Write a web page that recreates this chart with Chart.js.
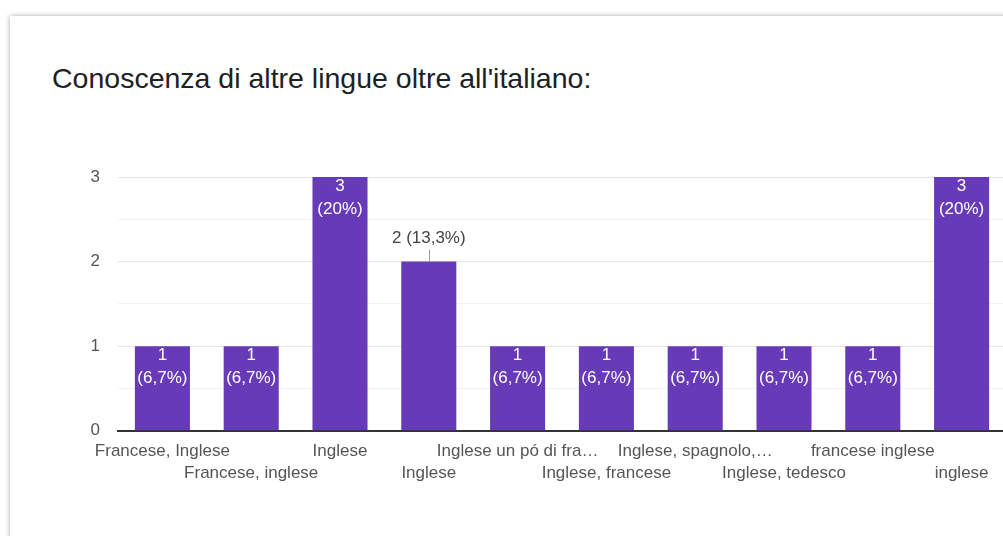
<!DOCTYPE html>
<html>
<head>
<meta charset="utf-8">
<script src="https://cdn.jsdelivr.net/npm/chart.js@4"></script>
<style>
  html, body { margin: 0; padding: 0; background: #fff; width: 1003px; height: 536px; overflow: hidden; }
  #card { position: absolute; left: 10px; top: 16px; width: 1100px; height: 600px; background: #fff;
          box-shadow: 0 0 5px rgba(0, 0, 0, 0.35); }
  #title { position: absolute; left: 42px; top: 46px; font: 28.5px/32px "Liberation Sans", Arial, sans-serif;
           color: #202124; white-space: nowrap; }
  #wrap { position: absolute; left: 0; top: 140px; width: 1010px; height: 370px; }
</style>
</head>
<body>
<div id="card"><div id="title">Conoscenza di altre lingue oltre all'italiano:</div></div>
<div id="wrap"><canvas id="chart"></canvas></div>

<script>
/* ===============================
   Data
================================ */
const categories = [
  "Francese, Inglese",
  "Francese, inglese",
  "Inglese",
  "Inglese",
  "Inglese un pó di fra…",
  "Inglese, francese",
  "Inglese, spagnolo,…",
  "Inglese, tedesco",
  "francese inglese",
  "inglese"
];
const counts = [1, 1, 3, 2, 1, 1, 1, 1, 1, 3];
const yTickLabels = [0, 1, 2, 3];
// bars whose label sits above the bar instead of inside
const outsideLabels = [3];

const total = counts.reduce((a, b) => a + b, 0);
const FONT = '"Liberation Sans", Arial, sans-serif';

// alternate labels between two rows
const xLabels = categories.map((c, i) => i % 2 ? ["", c] : [c]);

function pctText(v) {
  const p = v / total * 100;
  const s = Number.isInteger(p) ? String(p) : p.toFixed(1).replace(".", ",");
  return "(" + s + "%)";
}

/* ===============================
   Value labels
================================ */
const barLabels = {
  id: "barLabels",
  afterDatasetsDraw(chart) {
    const ctx = chart.ctx;
    const meta = chart.getDatasetMeta(0);
    ctx.save();
    ctx.font = "17px " + FONT;
    ctx.textAlign = "center";
    ctx.textBaseline = "middle";
    meta.data.forEach((bar, i) => {
      const v = counts[i];
      if (outsideLabels.includes(i)) {
        ctx.fillStyle = "#444";
        ctx.fillText(v + " " + pctText(v), bar.x, bar.y - 23);
        ctx.strokeStyle = "#999";
        ctx.lineWidth = 1;
        ctx.beginPath();
        ctx.moveTo(Math.round(bar.x) + 0.5, bar.y - 12);
        ctx.lineTo(Math.round(bar.x) + 0.5, bar.y);
        ctx.stroke();
      } else {
        ctx.fillStyle = "#fff";
        ctx.fillText(String(v), bar.x, bar.y + 9);
        ctx.fillText(pctText(v), bar.x, bar.y + 32);
      }
    });
    ctx.restore();
  }
};

/* ===============================
   Chart
================================ */
new Chart(document.getElementById("chart"), {
  type: "bar",
  data: {
    labels: xLabels,
    datasets: [{
      data: counts,
      backgroundColor: "#673ab7",
      barPercentage: 0.62,
      categoryPercentage: 1
    }]
  },
  options: {
    responsive: true,
    maintainAspectRatio: false,
    animation: false,
    layout: { padding: { top: 37, right: 4, bottom: 17, left: 0 } },
    plugins: { legend: { display: false }, tooltip: { enabled: false } },
    scales: {
      x: {
        grid: { display: false, drawTicks: false },
        border: { color: "#333", width: 2 },
        ticks: {
          autoSkip: false, maxRotation: 0, minRotation: 0, padding: 9,
          color: "#555", font: { family: FONT, size: 17, lineHeight: 1.3 }
        }
      },
      y: {
        min: 0, max: 3,
        afterFit: s => { s.width = 118; },
        border: { display: false },
        grid: {
          drawTicks: false,
          color: c => Number.isInteger(c.tick.value) ? "#e6e6e6" : "#f3f3f3"
        },
        ticks: {
          stepSize: 0.5, padding: 18, color: "#555",
          font: { family: FONT, size: 17 },
          callback: v => yTickLabels.includes(v) ? String(v) : ""
        }
      }
    }
  },
  plugins: [barLabels]
});
</script>
</body>
</html>
